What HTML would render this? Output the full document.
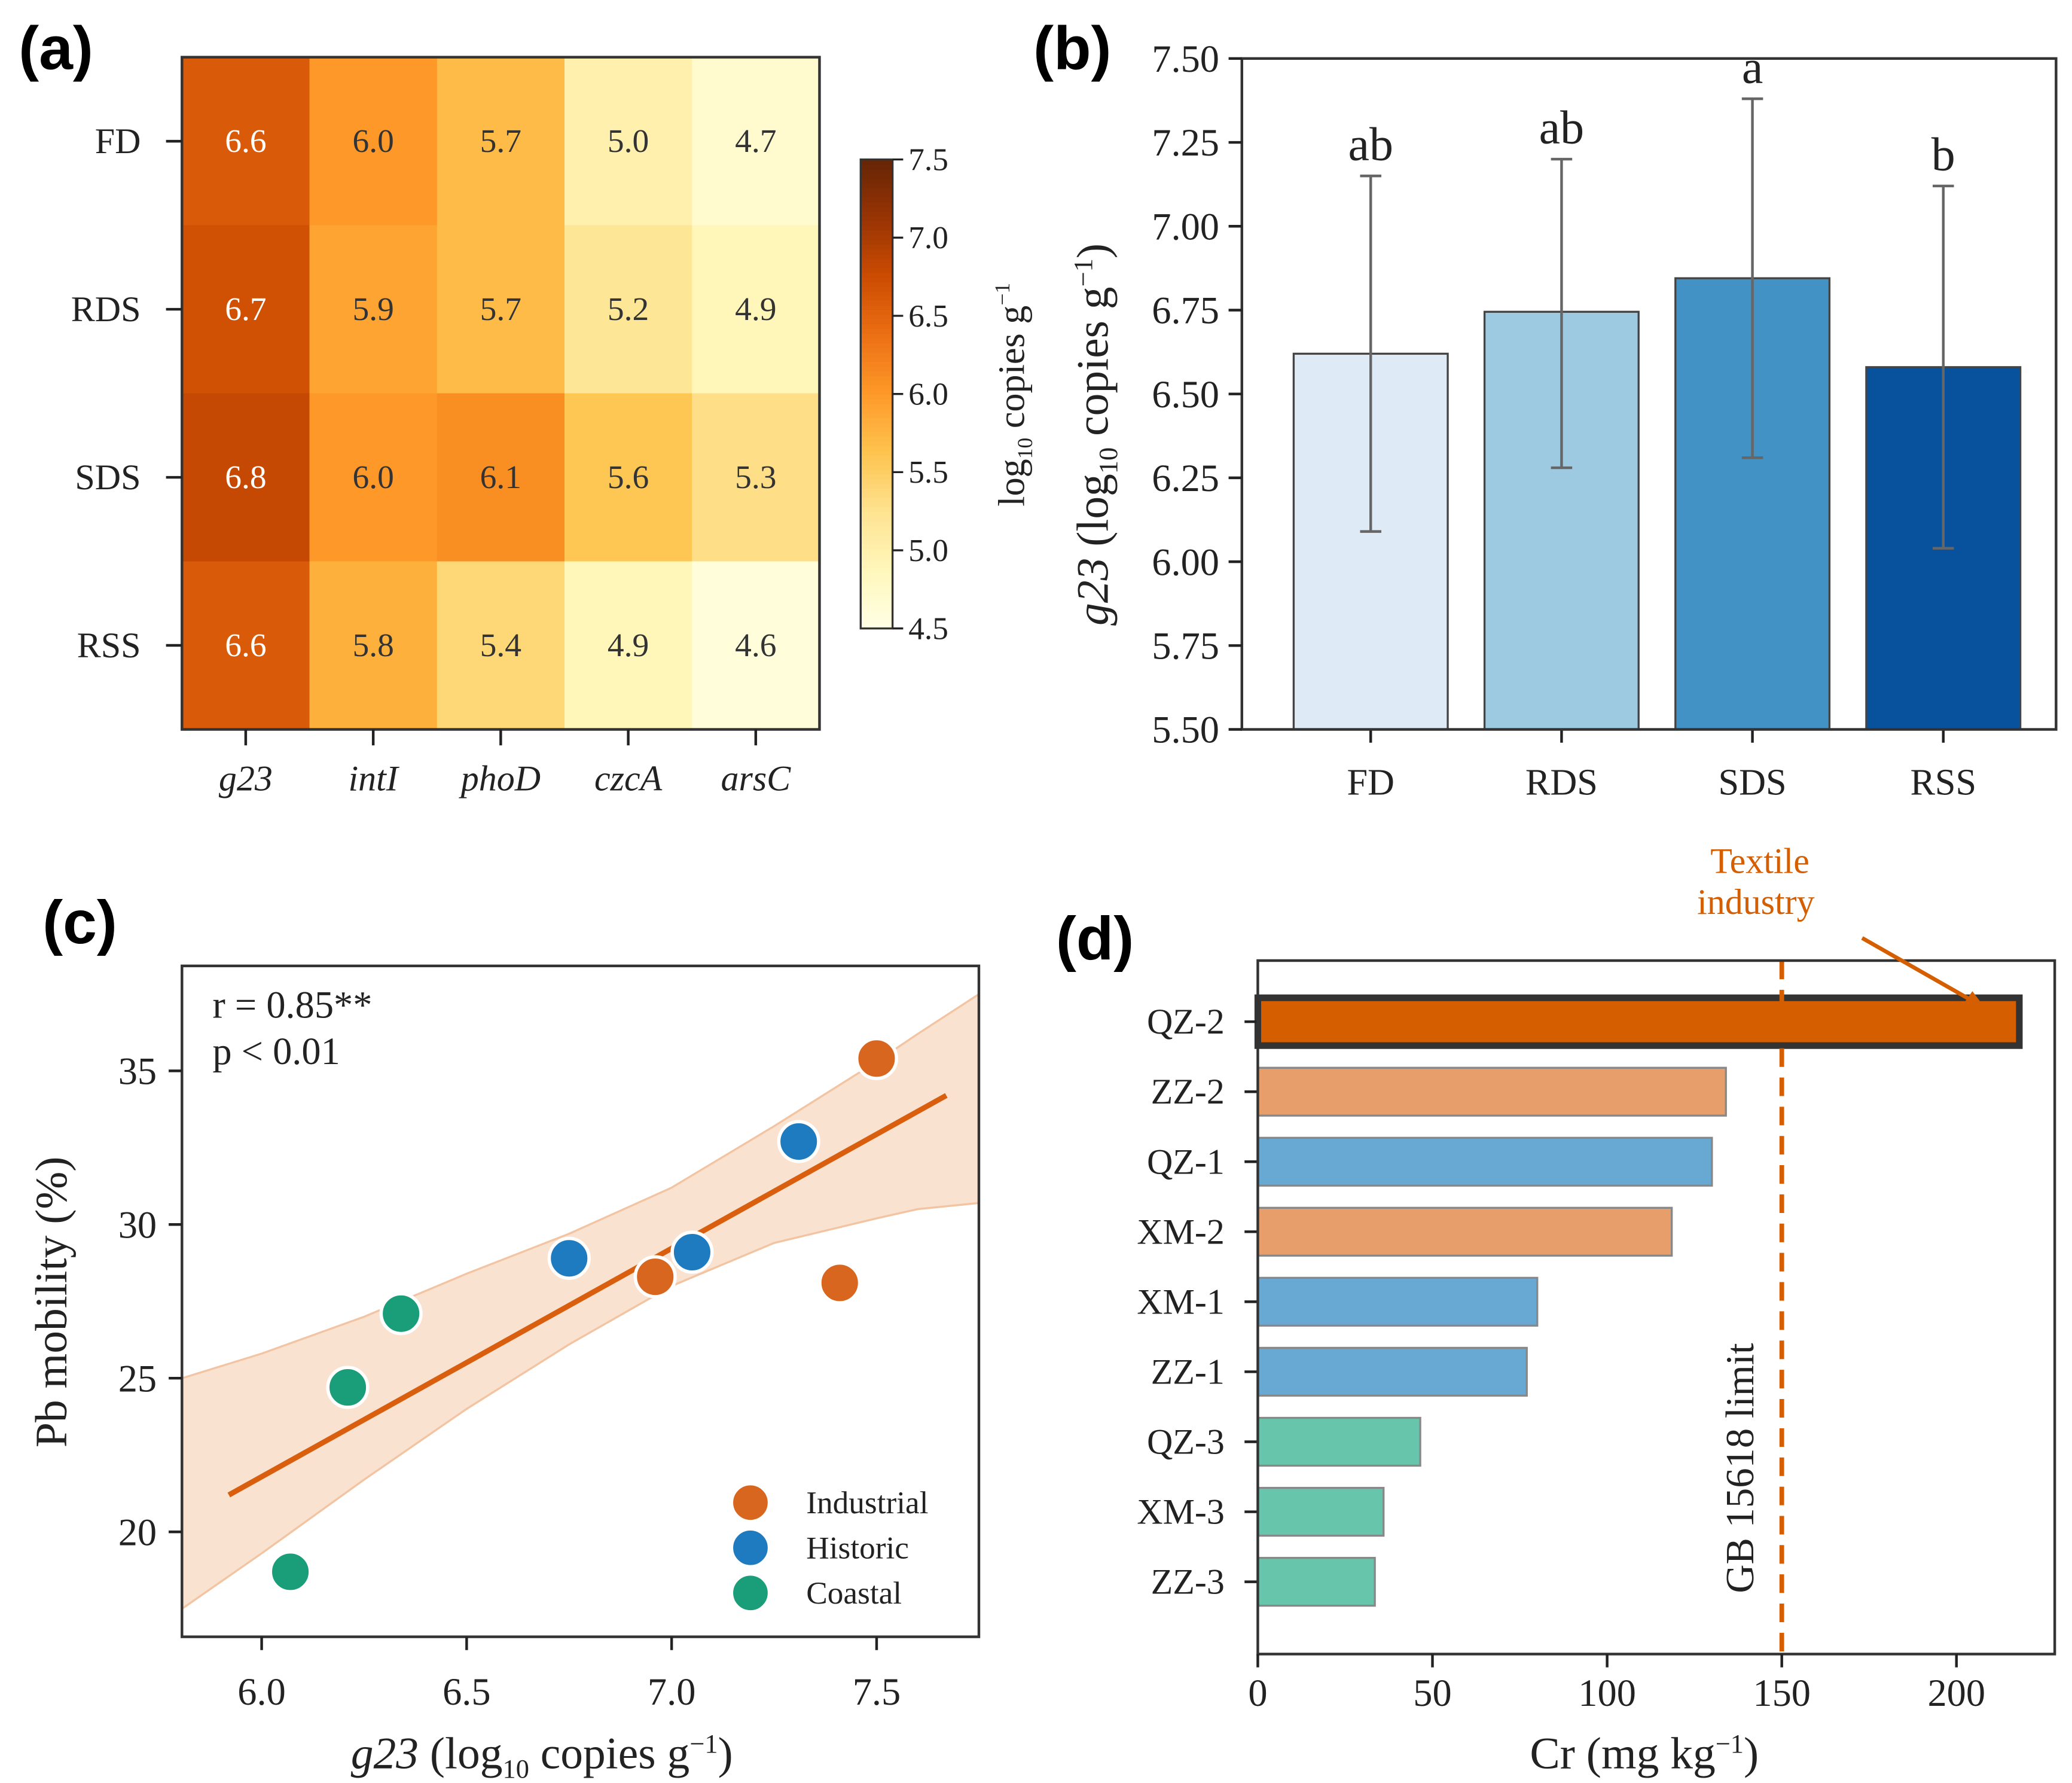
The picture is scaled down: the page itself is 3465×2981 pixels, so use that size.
<!DOCTYPE html>
<html><head><meta charset="utf-8"><style>
html,body{margin:0;padding:0;background:#fff}
svg{display:block}
text{font-family:"Liberation Serif",serif;fill:#222}
.pl{font-family:"Liberation Sans",sans-serif;font-weight:bold;font-size:46px;fill:#000}
.tk{font-size:27px}
</style></head><body>
<svg id="fig" width="3465" height="2981" viewBox="0 0 1560 1342" xmlns="http://www.w3.org/2000/svg">
<g id="ga"></g>
<g id="gb"></g>
<g id="gc"></g>
<g id="gd"></g>
</svg>
<script>
// ---- panel a data
const hmRows=["FD","RDS","SDS","RSS"];
const hmCols=["g23","intI","phoD","czcA","arsC"];
const hmFD=[6.6,6.0,5.7,5.0,4.7];
const hmRDS=[6.7,5.9,5.7,5.2,4.9];
const hmSDS=[6.8,6.0,6.1,5.6,5.3];
const hmRSS=[6.6,5.8,5.4,4.9,4.6];
const cbTicks=[4.5,5.0,5.5,6.0,6.5,7.0,7.5];
// ---- panel b data
const bCats=["FD","RDS","SDS","RSS"];
const bVals=[6.62,6.745,6.845,6.58];
const bErrLo=[6.09,6.28,6.31,6.04];
const bErrHi=[7.15,7.20,7.38,7.12];
const bLetters=["ab","ab","a","b"];
const bTicks=[5.5,5.75,6.0,6.25,6.5,6.75,7.0,7.25,7.5];
// ---- panel c data
const indX=[7.50,6.96,7.41], indY=[35.4,28.3,28.1];
const hisX=[6.75,7.05,7.31], hisY=[28.9,29.1,32.7];
const coaX=[6.21,6.34,6.07], coaY=[24.7,27.1,18.7];
const fitX=[5.92,7.67], fitY=[21.2,34.2];
const bandX=[5.806,6.0,6.25,6.5,6.75,7.0,7.25,7.5,7.6,7.75];
const bandLo=[17.5,19.3,21.7,24.0,26.1,28.0,29.4,30.2,30.5,30.7];
const bandHi=[25.0,25.8,27.0,28.4,29.7,31.2,33.2,35.3,36.2,37.5];
const cXTicks=[6.0,6.5,7.0,7.5];
const cYTicks=[20,25,30,35];
// ---- panel d data
const dCats=["QZ-2","ZZ-2","QZ-1","XM-2","XM-1","ZZ-1","QZ-3","XM-3","ZZ-3"];
const dVals=[218,134,130,118.5,80,77,46.5,36,33.5];
const dGroup=["hl","ind","his","ind","his","his","coa","coa","coa"];
const dTicks=[0,50,100,150,200];
const dLimit=150;

const NS="http://www.w3.org/2000/svg";
function mk(p,t,a,txt){const e=document.createElementNS(NS,t);for(const k in a)e.setAttribute(k,a[k]);if(txt!==undefined)e.textContent=txt;p.appendChild(e);return e;}
const ga=document.getElementById('ga'),gb=document.getElementById('gb'),gc=document.getElementById('gc'),gd=document.getElementById('gd');

const stops=["#ffffe5","#fff7bc","#fee391","#fec44f","#fe9929","#ec7014","#cc4c02","#993404","#662506"];
function hex(c){return [1,3,5].map(i=>parseInt(c.substr(i,2),16));}
function cmap(v){let t=Math.max(0,Math.min(1,(v-4.5)/3));const f=t*(stops.length-1);const i=Math.min(stops.length-2,Math.floor(f));const r=f-i;const a=hex(stops[i]),b=hex(stops[i+1]);return "rgb("+a.map((x,k)=>Math.round(x+(b[k]-x)*r)).join(",")+")";}

// ===== panel a
let e=mk(ga,'text',{x:14,y:52,class:'pl'},'(a)');


const hx0=137,hy0=43,cw=96,rh=126.5;
const hmData=[hmFD,hmRDS,hmSDS,hmRSS];
hmData.forEach((row,ri)=>{row.forEach((v,ci)=>{
 let r=mk(ga,'rect',{x:hx0+ci*cw,y:hy0+ri*rh,width:cw+0.5,height:rh+0.5,fill:cmap(v)});
 
 
 let t=mk(ga,'text',{x:hx0+ci*cw+cw/2,y:hy0+ri*rh+rh/2+8,'text-anchor':'middle','font-size':25},v.toFixed(1));
 t.style.fill=ci==0?'#fff':'#333';
 
 
});});
mk(ga,'rect',{x:hx0,y:hy0,width:cw*5,height:rh*4,fill:'none',stroke:'#333','stroke-width':2});
hmRows.forEach((n,i)=>{const y=hy0+i*rh+rh/2;mk(ga,'line',{x1:hx0-12,x2:hx0,y1:y,y2:y,stroke:'#222','stroke-width':2});
 let t=mk(ga,'text',{x:106,y:y+9,'text-anchor':'end',class:'tk'},n);
 
 });
hmCols.forEach((n,i)=>{const x=hx0+i*cw+cw/2;mk(ga,'line',{x1:x,x2:x,y1:hy0+rh*4,y2:hy0+rh*4+12,stroke:'#222','stroke-width':2});
 let t=mk(ga,'text',{x:x,y:595,'text-anchor':'middle',class:'tk','font-style':'italic'},n);
 
 });
const cbx=648,cbT=120,cbB=473,cbw=24;
for(let i=0;i<100;i++){const v0=4.5+3*i/100;const y=cbB-(cbB-cbT)*(i+1)/100;mk(ga,'rect',{x:cbx,y:y,width:cbw,height:(cbB-cbT)/100+0.6,fill:cmap(v0+0.015)});}
let cb=mk(ga,'rect',{x:cbx,y:cbT,width:cbw,height:cbB-cbT,fill:'none',stroke:'#333','stroke-width':1.5});


cbTicks.forEach(v=>{const y=cbB-(v-4.5)/3*(cbB-cbT);mk(ga,'line',{x1:cbx+cbw,x2:cbx+cbw+8,y1:y,y2:y,stroke:'#222','stroke-width':1.5});
 mk(ga,'text',{x:cbx+cbw+12,y:y+8,'font-size':24},v.toFixed(1));});
e=mk(ga,'text',{transform:'translate(771,297) rotate(-90)','text-anchor':'middle','font-size':28});
e.innerHTML='log<tspan font-size="16" dy="6">10</tspan><tspan dy="-6"> copies g</tspan><tspan font-size="16" dy="-11">−1</tspan>';



// ===== panel b
e=mk(gb,'text',{x:778,y:52,class:'pl'},'(b)');


const bx0=935,bx1=1548,by0=44,by1=549;
const byS=v=>by1-(v-5.5)/2*(by1-by0);
const bCol=["#deebf7","#9ecae1","#4292c6","#08519c"];
bCats.forEach((c,i)=>{const cx=1032+i*143.7;const y=byS(bVals[i]);
 let r=mk(gb,'rect',{x:cx-58,y:y,width:116,height:by1-y,fill:bCol[i],stroke:'#444','stroke-width':1.5});
 
 
 const yl=byS(bErrLo[i]),yh=byS(bErrHi[i]);
 mk(gb,'line',{x1:cx,x2:cx,y1:yl,y2:yh,stroke:'#666','stroke-width':2});
 mk(gb,'line',{x1:cx-8,x2:cx+8,y1:yl,y2:yl,stroke:'#666','stroke-width':2});
 mk(gb,'line',{x1:cx-8,x2:cx+8,y1:yh,y2:yh,stroke:'#666','stroke-width':2});
 let t=mk(gb,'text',{x:cx,y:yh-12,'text-anchor':'middle','font-size':36},bLetters[i]);
 
 
 mk(gb,'line',{x1:cx,x2:cx,y1:by1,y2:by1+10,stroke:'#222','stroke-width':2});
 t=mk(gb,'text',{x:cx,y:598,'text-anchor':'middle','font-size':28},c);
 
 });
mk(gb,'rect',{x:bx0,y:by0,width:bx1-bx0,height:by1-by0,fill:'none',stroke:'#333','stroke-width':2});
bTicks.forEach(v=>{const y=byS(v);mk(gb,'line',{x1:bx0-10,x2:bx0,y1:y,y2:y,stroke:'#222','stroke-width':2});
 mk(gb,'text',{x:918,y:y+10,'text-anchor':'end','font-size':29},v.toFixed(2));});
e=mk(gb,'text',{transform:'translate(834,327) rotate(-90)','text-anchor':'middle','font-size':34});
e.innerHTML='<tspan font-style="italic">g23</tspan> (log<tspan font-size="20" dy="7">10</tspan><tspan dy="-7"> copies g</tspan><tspan font-size="20" dy="-12">−1</tspan><tspan dy="12">)</tspan>';



// ===== panel c
e=mk(gc,'text',{x:32,y:710,class:'pl'},'(c)');


const cx0=137,cx1=737,cy0=727,cy1=1232;
const cxS=v=>197+(v-6.0)/1.5*463;
const cyS=v=>806+(35-v)/15*347;
let pts=bandX.map((x,i)=>cxS(x)+','+cyS(bandHi[i])).concat(bandX.slice().reverse().map((x,i)=>cxS(x)+','+cyS(bandLo[bandX.length-1-i])));
mk(gc,'clipPath',{id:'cclip'});
mk(document.getElementById('cclip'),'rect',{x:cx0,y:cy0,width:cx1-cx0,height:cy1-cy0});
e=mk(gc,'polygon',{points:pts.join(' '),fill:'#f5cfb0','fill-opacity':0.6,stroke:'#f2c4a2','stroke-width':1.5,'clip-path':'url(#cclip)'});


e=mk(gc,'line',{x1:cxS(fitX[0]),y1:cyS(fitY[0]),x2:cxS(fitX[1]),y2:cyS(fitY[1]),stroke:'#d95f0e','stroke-width':4});


function pts2(X,Y,col,name){X.forEach((x,i)=>{let c=mk(gc,'circle',{cx:cxS(x),cy:cyS(Y[i]),r:15,fill:col,stroke:'#fff','stroke-width':2.5});
 
 });}
pts2(indX,indY,'#d9661f','point-industrial');
pts2(hisX,hisY,'#1f7bbf','point-historic');
pts2(coaX,coaY,'#1a9e7a','point-coastal');
mk(gc,'rect',{x:cx0,y:cy0,width:cx1-cx0,height:cy1-cy0,fill:'none',stroke:'#333','stroke-width':2});
cXTicks.forEach(v=>{const x=cxS(v);mk(gc,'line',{x1:x,x2:x,y1:cy1,y2:cy1+10,stroke:'#222','stroke-width':2});
 mk(gc,'text',{x:x,y:1283,'text-anchor':'middle','font-size':29},v.toFixed(1));});
cYTicks.forEach(v=>{const y=cyS(v);mk(gc,'line',{x1:cx0-10,x2:cx0,y1:y,y2:y,stroke:'#222','stroke-width':2});
 mk(gc,'text',{x:118,y:y+10,'text-anchor':'end','font-size':29},v);});
e=mk(gc,'text',{x:160,y:766,'font-size':29},'r = 0.85**');


mk(gc,'text',{x:160,y:801,'font-size':29},'p < 0.01');
[['Industrial','#d9661f',1131],['Historic','#1f7bbf',1165],['Coastal','#1a9e7a',1199]].forEach(l=>{
 let c=mk(gc,'circle',{cx:565,cy:l[2],r:14,fill:l[1],stroke:'#fff','stroke-width':2});
 
 
 let t=mk(gc,'text',{x:607,y:l[2]+8,'font-size':24},l[0]);
 
 });
e=mk(gc,'text',{x:408,y:1331,'text-anchor':'middle','font-size':34});
e.innerHTML='<tspan font-style="italic">g23</tspan> (log<tspan font-size="20" dy="7">10</tspan><tspan dy="-7"> copies g</tspan><tspan font-size="20" dy="-12">−1</tspan><tspan dy="12">)</tspan>';


e=mk(gc,'text',{transform:'translate(50,980) rotate(-90)','text-anchor':'middle','font-size':34},'Pb mobility (%)');



// ===== panel d
e=mk(gd,'text',{x:795,y:722,class:'pl'},'(d)');


const dx0=947,dx1=1547,dy0=723,dy1=1245;
const dxS=v=>dx0+v/50*131.5;
const dyS=i=>769+i*52.7;
const gcol={hl:'#d55e00',ind:'#e79e6b',his:'#67a9d3',coa:'#66c5ab'};
dCats.forEach((c,i)=>{const y=dyS(i);const hl=dGroup[i]=='hl';
 let r=mk(gd,'rect',{x:dx0,y:y-18,width:dxS(dVals[i])-dx0,height:36,fill:gcol[dGroup[i]],stroke:hl?'#333':'#888','stroke-width':hl?5:1.5});
 
 
 mk(gd,'line',{x1:dx0-10,x2:dx0,y1:y,y2:y,stroke:'#222','stroke-width':2});
 let t=mk(gd,'text',{x:922,y:y+9,'text-anchor':'end','font-size':27},c);
 
 });
e=mk(gd,'line',{x1:dxS(dLimit),x2:dxS(dLimit),y1:dy0,y2:dy1,stroke:'#d55e00','stroke-width':3.5,'stroke-dasharray':'14,8'});


e=mk(gd,'text',{transform:'translate(1320,1105) rotate(-90)','text-anchor':'middle','font-size':30},'GB 15618 limit');


mk(gd,'rect',{x:dx0,y:dy0,width:dx1-dx0,height:dy1-dy0,fill:'none',stroke:'#333','stroke-width':2});
dTicks.forEach(v=>{const x=dxS(v);mk(gd,'line',{x1:x,x2:x,y1:dy1,y2:dy1+10,stroke:'#222','stroke-width':2});
 mk(gd,'text',{x:x,y:1284,'text-anchor':'middle','font-size':29},v);});
e=mk(gd,'text',{x:1238,y:1331,'text-anchor':'middle','font-size':34});
e.innerHTML='Cr (mg kg<tspan font-size="20" dy="-12">−1</tspan><tspan dy="12">)</tspan>';


e=mk(gd,'text',{x:1325,y:657,'text-anchor':'middle','font-size':27},'Textile');
e.style.fill='#d55e00';


e=mk(gd,'text',{x:1322,y:688,'text-anchor':'middle','font-size':27},'industry');
e.style.fill='#d55e00';
e=mk(gd,'line',{x1:1402,y1:706,x2:1488,y2:755,stroke:'#d55e00','stroke-width':3});


mk(gd,'polygon',{points:'1494,758 1478,756 1485,746',fill:'#d55e00'});
</script>
</body></html>
